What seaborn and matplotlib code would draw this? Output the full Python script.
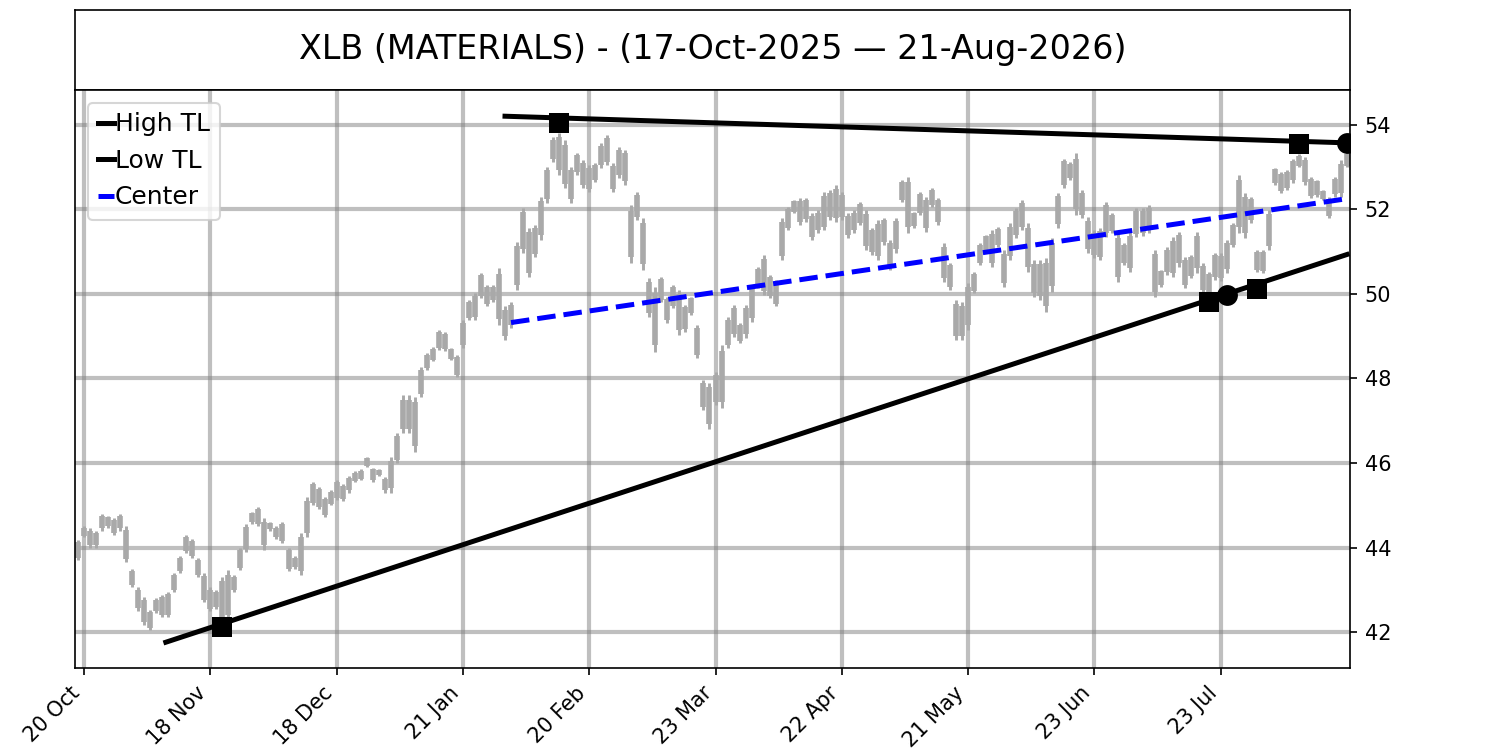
import numpy as np
import matplotlib
matplotlib.use("Agg")
import matplotlib.pyplot as plt
import seaborn as sns

title = "XLB (MATERIALS) - (17-Oct-2025 \u2014 21-Aug-2026)"

tick_labels = ["20 Oct", "18 Nov", "18 Dec", "21 Jan", "20 Feb", "23 Mar",
               "22 Apr", "21 May", "23 Jun", "23 Jul"]

lows = [
    43.70, 44.25, 44.00, 44.00, 44.40, 44.45, 44.30, 44.40, 43.65, 43.07,
    42.50, 42.17, 42.05, 42.45, 42.35, 42.35, 42.95, 43.40, 43.87, 43.75,
    43.30, 42.70, 42.50, 42.55, 42.20, 42.30, 42.95, 43.47, 43.90, 44.55,
    44.50, 43.95, 44.40, 44.20, 44.10, 43.45, 43.50, 43.35, 44.25, 45.00,
    44.90, 44.72, 45.00, 45.12, 45.10, 45.30, 45.55, 45.60, 45.90, 45.55,
    45.70, 45.30, 45.30, 46.00, 46.70, 46.70, 46.25, 47.56, 48.20, 48.40,
    48.67, 48.65, 48.44, 48.03, 48.72, 49.38, 49.38, 49.90, 49.70, 49.80,
    49.27, 48.90, 49.20, 50.10, 50.97, 50.40, 50.88, 51.28, 52.15, 53.12,
    52.82, 52.50, 52.15, 52.82, 52.50, 52.40, 52.65, 52.98, 53.05, 52.40,
    52.75, 52.58, 50.73, 51.75, 50.57, 49.45, 48.63, 49.80, 49.31, 49.67,
    49.03, 49.10, 49.50, 48.48, 47.25, 46.80, 47.37, 47.30, 48.72, 48.98,
    48.84, 48.96, 49.34, 50.14, 49.98, 49.90, 49.70, 50.80, 51.50, 51.90,
    51.63, 51.70, 51.28, 51.44, 51.50, 51.75, 51.70, 51.75, 51.33, 51.44,
    51.63, 51.04, 50.92, 50.80, 51.16, 50.57, 50.97, 52.18, 51.44, 51.56,
    51.87, 51.47, 52.06, 51.63, 50.28, 50.10, 48.90, 48.90, 49.15, 50.02,
    50.69, 51.00, 50.64, 51.10, 50.17, 50.80, 51.33, 51.50, 50.52, 49.93,
    49.86, 49.57, 50.05, 51.56, 52.50, 52.70, 51.87, 51.80, 50.97, 50.85,
    50.80, 51.35, 51.44, 50.28, 50.69, 50.52, 51.35, 51.37, 51.44, 49.93,
    50.17, 50.45, 50.40, 50.64, 50.14, 50.38, 50.50, 50.02, 49.93, 50.33,
    50.30, 50.50, 51.10, 51.44, 51.33, 51.68, 50.52, 50.50, 51.04, 52.58,
    52.39, 52.46, 52.63, 53.00, 52.58, 52.27, 52.30, 52.22, 51.80, 52.30,
    52.30, 53.00,
]

highs = [
    44.17, 44.50, 44.45, 44.40, 44.80, 44.75, 44.70, 44.80, 44.50, 43.50,
    43.07, 42.83, 42.52, 42.80, 42.87, 42.95, 43.40, 43.80, 44.30, 44.20,
    43.75, 43.40, 43.07, 43.00, 43.30, 43.47, 43.35, 44.00, 44.55, 44.85,
    44.96, 44.70, 44.60, 44.50, 44.60, 44.00, 43.80, 44.34, 45.20, 45.55,
    45.43, 45.20, 45.36, 45.60, 45.50, 45.70, 45.80, 45.85, 46.15, 45.88,
    45.85, 45.67, 46.15, 46.70, 47.60, 47.60, 47.55, 48.27, 48.60, 48.75,
    49.15, 49.10, 48.72, 48.55, 49.38, 49.86, 50.02, 50.50, 50.20, 50.20,
    50.60, 49.70, 49.80, 51.23, 52.03, 51.56, 51.63, 52.30, 53.00, 53.70,
    53.80, 53.64, 53.00, 53.33, 53.17, 53.05, 53.10, 53.57, 53.76, 53.10,
    53.48, 53.40, 52.10, 52.40, 51.80, 50.38, 50.17, 50.40, 49.93, 50.20,
    50.10, 49.74, 49.93, 49.27, 47.96, 47.90, 48.15, 48.80, 49.46, 49.74,
    49.31, 49.74, 50.20, 50.64, 50.92, 50.45, 50.33, 51.80, 52.06, 52.22,
    52.27, 52.27, 51.90, 51.98, 52.40, 52.46, 52.58, 52.40, 51.90, 51.98,
    52.17, 51.98, 51.56, 51.75, 51.80, 51.28, 51.80, 52.70, 52.77, 51.94,
    52.40, 52.30, 52.50, 52.27, 51.20, 50.73, 49.86, 49.80, 50.26, 50.52,
    51.20, 51.40, 51.50, 51.58, 51.04, 51.68, 52.04, 52.22, 51.68, 50.80,
    50.80, 50.85, 51.33, 52.39, 53.20, 53.12, 53.33, 52.46, 51.82, 51.50,
    51.56, 52.18, 51.92, 51.44, 51.20, 51.47, 52.04, 52.04, 52.10, 51.04,
    50.57, 51.10, 51.35, 51.47, 50.88, 50.92, 51.47, 50.73, 50.52, 50.97,
    50.97, 51.28, 51.68, 52.82, 52.39, 52.30, 51.04, 51.04, 51.98, 52.98,
    52.89, 52.93, 53.20, 53.30, 53.24, 52.77, 52.70, 52.46, 52.30, 52.77,
    53.17, 53.33,
]

opens = [
    43.75, 44.47, 44.40, 44.05, 44.45, 44.72, 44.35, 44.75, 44.42, 43.45,
    43.00, 42.77, 42.10, 42.75, 42.40, 42.40, 43.00, 43.45, 44.25, 44.15,
    43.70, 43.33, 42.55, 42.95, 42.30, 42.40, 43.00, 43.52, 43.97, 44.82,
    44.90, 44.05, 44.57, 44.47, 44.55, 43.95, 43.55, 43.45, 44.35, 45.50,
    45.38, 44.78, 45.04, 45.55, 45.15, 45.35, 45.58, 45.63, 46.12, 45.85,
    45.83, 45.35, 45.40, 46.07, 46.80, 47.50, 46.40, 47.63, 48.24, 48.44,
    49.10, 49.05, 48.70, 48.08, 48.80, 49.43, 49.45, 50.44, 50.15, 49.85,
    50.47, 49.00, 49.26, 50.20, 51.93, 50.50, 50.95, 51.38, 52.24, 53.18,
    53.70, 53.53, 52.24, 53.28, 53.10, 52.47, 52.70, 53.04, 53.69, 52.47,
    53.40, 53.32, 50.87, 52.33, 51.68, 50.29, 48.78, 50.34, 49.37, 50.15,
    50.00, 49.16, 49.89, 49.19, 47.89, 46.91, 47.45, 47.45, 48.80, 49.66,
    48.89, 49.04, 49.43, 50.59, 50.83, 50.40, 49.76, 50.90, 51.56, 52.19,
    51.70, 52.21, 51.34, 51.50, 51.59, 52.39, 51.79, 52.33, 51.39, 51.50,
    52.12, 51.88, 50.98, 50.90, 51.74, 50.64, 51.05, 52.65, 52.64, 51.60,
    52.35, 51.55, 52.46, 52.21, 51.11, 50.67, 49.76, 49.00, 49.26, 50.07,
    50.74, 51.36, 50.73, 51.53, 50.26, 50.89, 51.40, 52.15, 51.56, 50.71,
    50.70, 49.70, 50.18, 51.64, 52.57, 53.08, 53.18, 52.39, 51.73, 50.92,
    50.88, 52.10, 51.87, 50.40, 51.15, 50.62, 51.42, 51.97, 52.03, 50.04,
    50.21, 50.52, 50.50, 51.39, 50.21, 50.43, 51.37, 50.66, 49.99, 50.39,
    50.37, 50.58, 51.16, 52.68, 51.44, 52.24, 50.57, 50.55, 51.13, 52.94,
    52.44, 52.51, 52.69, 53.27, 53.17, 52.72, 52.66, 52.44, 51.85, 52.35,
    52.39, 53.03,
]

closes = [
    44.12, 44.28, 44.05, 44.35, 44.75, 44.50, 44.65, 44.45, 43.72, 43.12,
    42.56, 42.23, 42.47, 42.50, 42.82, 42.90, 43.35, 43.75, 43.92, 43.80,
    43.35, 42.77, 43.00, 42.60, 43.20, 43.35, 43.30, 43.95, 44.48, 44.60,
    44.55, 44.60, 44.43, 44.25, 44.15, 43.50, 43.75, 44.25, 45.10, 45.05,
    44.95, 45.15, 45.32, 45.17, 45.45, 45.65, 45.77, 45.82, 45.93, 45.60,
    45.72, 45.62, 46.05, 46.63, 47.50, 46.80, 47.45, 48.20, 48.56, 48.70,
    48.72, 48.70, 48.47, 48.50, 49.30, 49.80, 49.95, 49.96, 49.75, 50.15,
    49.40, 49.62, 49.74, 51.12, 51.07, 51.45, 51.55, 52.20, 52.92, 53.64,
    52.92, 52.60, 52.92, 52.87, 52.57, 52.98, 53.05, 53.50, 53.12, 53.03,
    52.82, 52.66, 51.96, 51.82, 50.70, 49.54, 50.02, 49.86, 49.87, 49.72,
    49.14, 49.68, 49.54, 48.56, 47.32, 47.79, 48.07, 48.65, 49.38, 49.06,
    49.26, 49.66, 50.11, 50.19, 50.07, 49.96, 50.27, 51.70, 52.00, 51.93,
    52.20, 51.76, 51.84, 51.92, 52.31, 51.82, 52.49, 51.82, 51.84, 51.92,
    51.68, 51.13, 51.50, 51.65, 51.22, 51.21, 51.72, 52.23, 51.57, 51.90,
    51.92, 52.22, 52.10, 51.70, 50.37, 50.16, 49.00, 49.70, 50.15, 50.47,
    51.15, 51.04, 51.41, 51.15, 50.95, 51.59, 51.97, 51.57, 50.64, 50.02,
    49.96, 50.72, 51.20, 52.31, 53.13, 52.74, 52.00, 51.87, 51.06, 51.43,
    51.48, 51.43, 51.49, 51.32, 50.74, 51.37, 51.97, 51.44, 51.51, 50.93,
    50.53, 51.03, 51.25, 50.72, 50.81, 50.87, 50.60, 50.09, 50.46, 50.91,
    50.90, 51.20, 51.62, 51.58, 52.28, 51.74, 50.99, 50.99, 51.89, 52.62,
    52.84, 52.88, 53.14, 53.03, 52.65, 52.32, 52.34, 52.24, 52.25, 52.72,
    53.08, 53.30,
]

# Trend lines (bar index, price)
high_tl_x = [71, 211]
high_tl_y = [54.20, 53.57]
low_tl_x = [14.6, 211]
low_tl_y = [41.76, 50.93]
center_x = [72, 211]
center_y = [49.32, 52.25]

# Pivot markers
square_x = [24, 80, 188, 196, 203]
square_y = [42.12, 54.05, 49.80, 50.12, 53.55]
circle_x = [191, 211]
circle_y = [49.97, 53.57]

n = len(closes)
xs = np.arange(n)
body_lo = np.minimum(opens, closes)
body_hi = np.maximum(opens, closes)

fig = plt.figure(figsize=(10, 5), dpi=150)
ax_t = fig.add_axes([0.05, 0.88, 0.85, 0.1067])
ax_t.set_xticks([])
ax_t.set_yticks([])
ax_t.text(0.5, 0.5, title, ha="center", va="center", fontsize=16,
          transform=ax_t.transAxes)

ax = fig.add_axes([0.05, 0.1093, 0.85, 0.7707])
ax.grid(True, color="gray", alpha=0.5, lw=2)

candle_color = "#a9a9a9"
ax.vlines(xs, lows, highs, colors=candle_color, lw=1.4, zorder=2)
ax.vlines(xs, body_lo, body_hi, colors=candle_color, lw=2.7, zorder=2)

sns.lineplot(x=high_tl_x, y=high_tl_y, color="black", lw=2.4, label="High TL", ax=ax, zorder=3)
sns.lineplot(x=low_tl_x, y=low_tl_y, color="black", lw=2.4, label="Low TL", ax=ax, zorder=3)
sns.lineplot(x=center_x, y=center_y, color="blue", lw=2.4, linestyle="--", label="Center", ax=ax, zorder=3)

sns.scatterplot(x=square_x, y=square_y, marker="s", s=100, color="black",
                edgecolor="black", linewidth=0, zorder=5, legend=False, ax=ax)
sns.scatterplot(x=circle_x, y=circle_y, marker="o", s=100, color="black",
                edgecolor="black", linewidth=0, zorder=5, legend=False, ax=ax)

ax.set_xlim(-0.5, n - 0.5)
ax.set_ylim(41.15, 54.82)
ax.yaxis.tick_right()
ax.set_yticks([42, 44, 46, 48, 50, 52, 54])
tick_pos = list(range(1, n, 21))[:len(tick_labels)]
ax.set_xticks(tick_pos)
ax.set_xticklabels(tick_labels, rotation=45, ha="right")
ax.set_xlabel("")
ax.set_ylabel("")

ax.legend(loc="upper left", handlelength=0.65, handletextpad=0.05, fontsize=12)

fig.savefig("out.png", dpi=150)
